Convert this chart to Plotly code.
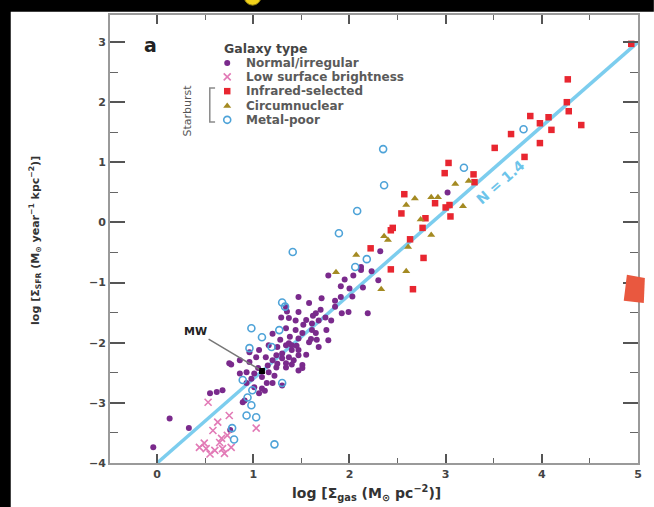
import plotly.graph_objects as go

# ---------------- data (log Σgas, log ΣSFR) ----------------
normal_x = [0.13, 0.33, -0.04, 0.55, 0.62, 0.68, 0.75, 0.76, 0.89, 0.77,
            0.96, 1.06, 1.16, 1.25, 1.34, 1.40,
            0.86, 0.93, 1.01, 1.09, 1.16, 1.24, 1.34, 1.42,
            0.93, 1.01, 1.09, 1.14, 1.06,
            0.86, 0.96, 1.03, 1.13, 1.24, 0.91,
            1.29, 1.37, 1.47, 1.58, 1.65, 1.75,
            1.34, 1.44, 1.51, 1.65, 1.76,
            1.37, 1.47, 1.58, 1.68,
            1.20, 1.30, 1.40, 1.51, 1.47,
            1.20, 1.30,
            1.78, 2.04, 2.12, 2.23, 2.30, 1.91, 2.14,
            1.47, 1.71, 1.91, 2.03, 1.92, 1.99, 2.19,
            1.34, 1.44, 1.61, 1.68, 1.81, 1.61,
            1.78, 1.47, 1.60, 1.40,
            1.30, 1.37, 1.47, 1.51, 1.34,
            2.32, 2.12, 3.02, 1.35,
            1.20, 1.28, 1.45, 1.55, 1.62, 1.70, 1.85, 1.55, 1.25, 1.15,
            1.05, 0.98, 1.12, 1.22, 1.38, 1.52, 1.66, 1.85, 2.00, 1.95]
normal_y = [-3.26, -3.42, -3.74, -2.84, -2.82, -2.79, -2.34, -3.45, -2.99, -2.36,
            -2.16, -2.12, -2.04, -2.07, -2.04, -2.12,
            -2.51, -2.49, -2.51, -2.57, -2.49, -2.41, -2.34, -2.29,
            -2.67, -2.74, -2.76, -2.67, -2.84,
            -2.29, -2.32, -2.24, -2.24, -2.21, -2.96,
            -1.58, -1.59, -1.49, -1.34, -1.51, -1.58,
            -1.76, -1.79, -1.84, -1.84, -1.79,
            -2.01, -2.12, -1.99, -2.07,
            -2.29, -2.26, -2.36, -2.37, -2.46,
            -2.67, -2.71,
            -0.88, -0.88, -0.79, -0.81, -0.96, -1.06, -1.08,
            -1.24, -1.26, -1.24, -1.23, -1.51, -1.49, -1.51,
            -1.41, -1.63, -1.68, -1.63, -1.63, -1.79,
            -1.96, -1.93, -1.94, -2.04,
            -2.18, -2.24, -2.21, -2.42, -2.41,
            -0.48, -0.74, 0.50, -1.48,
            -1.85, -1.95, -2.05, -2.20, -1.55, -1.45, -1.40, -1.62, -2.35, -2.38,
            -2.42, -2.60, -2.80, -2.55, -1.90, -1.70, -1.95, -1.30, -1.10, -0.95]

lsb_x = [0.53, 0.75, 0.63, 1.03, 0.58, 0.67, 0.73, 0.44, 0.51, 0.60, 0.68, 0.77, 0.65, 0.49, 0.55, 0.70]
lsb_y = [-2.99, -3.21, -3.32, -3.42, -3.46, -3.59, -3.54, -3.74, -3.76, -3.79, -3.76, -3.74, -3.66, -3.67, -3.85, -3.84]

ir_x = [4.93, 4.27, 4.26, 4.28, 4.41, 3.88, 3.98, 4.07, 4.10, 3.68, 3.51, 3.98, 3.82, 3.03, 2.99, 3.29,
        3.30, 2.57, 2.54, 2.89, 3.00, 3.04, 3.05, 2.79, 2.76, 2.43, 2.45, 2.63, 2.22, 2.77, 2.43, 2.66]
ir_y = [2.97, 2.38, 2.00, 1.85, 1.62, 1.77, 1.65, 1.75, 1.54, 1.47, 1.24, 1.32, 1.09, 0.99, 0.82, 0.80,
        0.67, 0.47, 0.15, 0.32, 0.25, 0.29, 0.10, 0.07, -0.09, -0.13, -0.09, -0.28, -0.43, -0.59, -0.78, -1.11]

cn_x = [3.10, 3.24, 2.68, 2.85, 2.92, 2.59, 3.18, 2.74, 2.85, 2.36, 2.40, 2.61, 2.07, 1.86, 2.59, 2.33]
cn_y = [0.64, 0.69, 0.40, 0.42, 0.42, 0.29, 0.27, 0.05, -0.21, -0.23, -0.29, -0.41, -0.54, -0.83, -0.81, -1.11]

mp_x = [2.35, 2.36, 2.08, 1.89, 1.41, 3.19, 3.81, 2.18, 2.06, 1.30, 1.33,
        0.98, 1.09, 0.96, 1.27, 1.19, 1.30, 0.99, 0.94, 0.98, 0.93, 1.03, 0.78, 0.80, 1.22, 0.89]
mp_y = [1.22, 0.62, 0.19, -0.18, -0.49, 0.91, 1.55, -0.61, -0.74, -1.33, -1.40,
        -1.76, -1.91, -2.09, -1.79, -2.07, -2.67, -2.79, -2.91, -3.04, -3.21, -3.24, -3.42, -3.61, -3.69, -2.62]

mw_x = [1.09]
mw_y = [-2.47]

fit_x = [0.0, 5.0]
fit_y = [-4.0, 3.0]

legend_names = ["Normal/irregular", "Low surface brightness", "Infrared-selected", "Circumnuclear", "Metal-poor"]
legend_ypos = [0.893, 0.862, 0.830, 0.797, 0.766]

x_ticks = [0, 1, 2, 3, 4, 5]
y_ticks = [-4, -3, -2, -1, 0, 1, 2, 3]

# ---------------- styles ----------------
PURPLE = "#7a2a8c"
PINK = "#e27ab6"
RED = "#e82630"
OLIVE = "#a48a22"
BLUE = "#4ea3d8"
LINEBLUE = "#7ccdee"

styles = [
    dict(color=PURPLE, symbol="circle", size=6),
    dict(color=PINK, symbol="x-thin", size=7, line=dict(color=PINK, width=1.6)),
    dict(color=RED, symbol="square", size=6.5),
    dict(color=OLIVE, symbol="triangle-up", size=7),
    dict(color=BLUE, symbol="circle-open", size=7, line=dict(color=BLUE, width=1.6)),
]

fig = go.Figure()

fig.add_trace(go.Scatter(x=fit_x, y=fit_y, mode="lines",
                         line=dict(color=LINEBLUE, width=3.5), showlegend=False, hoverinfo="skip"))

series = [(normal_x, normal_y), (lsb_x, lsb_y), (ir_x, ir_y), (cn_x, cn_y), (mp_x, mp_y)]
for (sx, sy), st, nm in zip(series, styles, legend_names):
    fig.add_trace(go.Scatter(x=sx, y=sy, mode="markers", marker=st, name=nm, showlegend=False))

fig.add_trace(go.Scatter(x=mw_x, y=mw_y, mode="markers",
                         marker=dict(color="black", symbol="square", size=6), showlegend=False))

# legend glyphs on an overlay axis in plot-area fractions
for yp, st in zip(legend_ypos, styles):
    fig.add_trace(go.Scatter(x=[0.222], y=[yp], mode="markers", marker=st,
                             xaxis="x2", yaxis="y2", showlegend=False, hoverinfo="skip"))

TXT = "#444444"
font_tick = dict(family="DejaVu Sans", size=11, color=TXT, weight="bold")

fig.update_layout(
    width=654, height=507,
    margin=dict(l=110, r=13, t=15, b=44),
    paper_bgcolor="white", plot_bgcolor="white",
    showlegend=False,
    xaxis=dict(range=[-0.49, 5.0], tickvals=x_ticks, ticks="inside", ticklen=9, tickwidth=1.5,
               tickcolor="#555", showline=True, linecolor="#9a9a9a", linewidth=2, mirror="ticks",
               showgrid=False, zeroline=False, tickfont=font_tick,
               minor=dict(dtick=0.5, tick0=0, ticks="inside", ticklen=5, tickwidth=1.2, tickcolor="#666")),
    yaxis=dict(range=[-4.0, 3.45], tickvals=y_ticks, ticks="inside", ticklen=15, tickwidth=1.5,
               tickcolor="#555", showline=True, linecolor="#9a9a9a", linewidth=2, mirror="ticks",
               showgrid=False, zeroline=False, tickfont=font_tick,
               minor=dict(dtick=0.5, tick0=0, ticks="inside", ticklen=8, tickwidth=1.2, tickcolor="#666")),
    xaxis2=dict(overlaying="x", range=[0, 1], visible=False),
    yaxis2=dict(overlaying="y", range=[0, 1], visible=False),
)

ann = []
# axis titles
ann.append(dict(xref="paper", yref="paper", x=0.485, y=-0.068, yanchor="middle", xanchor="center",
                text="log [Σ<sub>gas</sub> (M<sub>⊙</sub> pc<sup>−2</sup>)]", showarrow=False,
                font=dict(family="DejaVu Sans", size=14, color="#333", weight="bold")))
ann.append(dict(xref="paper", yref="paper", x=-0.141, y=0.497, textangle=-90,
                xanchor="center", yanchor="middle",
                text="log [Σ<sub>SFR</sub> (M<sub>⊙</sub> year<sup>−1</sup> kpc<sup>−2</sup>)]", showarrow=False,
                font=dict(family="DejaVu Sans", size=11, color="#333", weight="bold")))
# panel label
ann.append(dict(xref="paper", yref="paper", x=0.077, y=0.934, text="a", showarrow=False,
                xanchor="center", yanchor="middle",
                font=dict(family="DejaVu Sans", size=19, color="#222", weight="bold")))
# legend title & entries
ann.append(dict(xref="paper", yref="paper", x=0.212, y=0.926, text="Galaxy type", showarrow=False,
                xanchor="left", yanchor="middle",
                font=dict(family="DejaVu Sans", size=12.5, color="#444", weight="bold")))
for yp, nm in zip(legend_ypos, legend_names):
    ann.append(dict(xref="paper", yref="paper", x=0.254, y=yp, text=nm, showarrow=False,
                    xanchor="left", yanchor="middle",
                    font=dict(family="DejaVu Sans", size=12, color="#5a5a5a", weight="bold")))
ann.append(dict(xref="paper", yref="paper", x=0.147, y=0.786, text="Starburst", showarrow=False,
                textangle=-90, xanchor="center", yanchor="middle",
                font=dict(family="DejaVu Sans", size=11, color="#555")))
# fit label
ann.append(dict(x=3.57, y=0.68, text="N = 1.4", showarrow=False, textangle=-41,
                font=dict(family="DejaVu Sans", size=14, color="#6cc4ea", weight="bold")))
# MW
ann.append(dict(x=mw_x[0], y=mw_y[0], ax=0.40, ay=-1.81, axref="x", ayref="y",
                text="MW", showarrow=True, arrowhead=0, arrowwidth=1.5, arrowcolor="#777",
                standoff=3, font=dict(family="DejaVu Sans", size=11, color="#222", weight="bold")))
fig.update_layout(annotations=ann)

shapes = []
# Starburst bracket
shapes.append(dict(type="path", xref="paper", yref="paper",
                   path="M 0.199 0.837 L 0.189 0.837 L 0.189 0.761 L 0.199 0.761",
                   line=dict(color="#8a8a8a", width=1.5)))
# photo frame artefacts: black border, red marker, yellow blob
shapes.append(dict(type="rect", xref="paper", yref="paper", x0=-0.21, x1=-0.188, y0=-0.11, y1=1.04,
                   fillcolor="black", line=dict(width=0), layer="above"))
shapes.append(dict(type="rect", xref="paper", yref="paper", x0=-0.21, x1=1.03, y0=1.007, y1=1.04,
                   fillcolor="black", line=dict(width=0), layer="above"))
shapes.append(dict(type="path", xref="paper", yref="paper",
                   path="M 0.979 0.420 L 1.013 0.413 L 1.011 0.357 L 0.973 0.362 Z",
                   fillcolor="#e9583f", line=dict(width=0), layer="above"))
shapes.append(dict(type="circle", xref="paper", yref="paper", x0=0.254, x1=0.286, y0=1.022, y1=1.06,
                   fillcolor="#f2d21a", line=dict(color="#8a7a10", width=1), layer="above"))
fig.update_layout(shapes=shapes)

fig.write_html("out.html")
